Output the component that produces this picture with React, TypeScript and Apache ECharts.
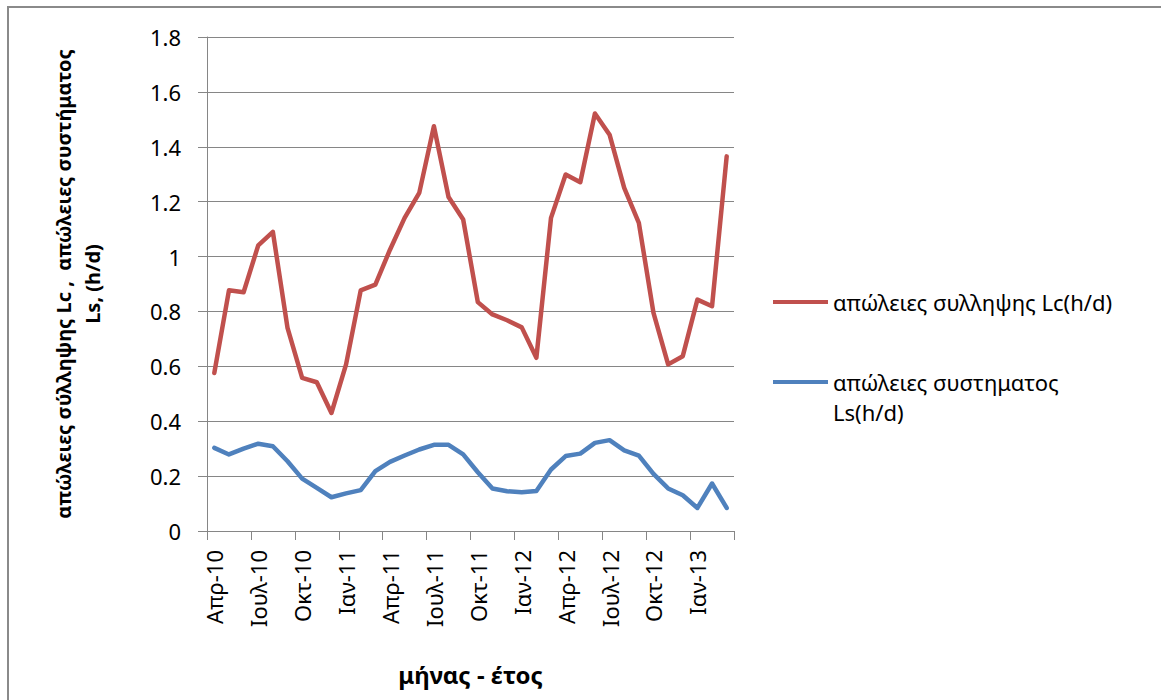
import React, { useEffect, useRef } from "react";
import * as echarts from "echarts";

const categories = [
  "Απρ-10", "Μαϊ-10", "Ιουν-10", "Ιουλ-10", "Αυγ-10", "Σεπ-10", "Οκτ-10", "Νοε-10", "Δεκ-10",
  "Ιαν-11", "Φεβ-11", "Μαρ-11", "Απρ-11", "Μαϊ-11", "Ιουν-11", "Ιουλ-11", "Αυγ-11", "Σεπ-11",
  "Οκτ-11", "Νοε-11", "Δεκ-11", "Ιαν-12", "Φεβ-12", "Μαρ-12", "Απρ-12", "Μαϊ-12", "Ιουν-12",
  "Ιουλ-12", "Αυγ-12", "Σεπ-12", "Οκτ-12", "Νοε-12", "Δεκ-12", "Ιαν-13", "Φεβ-13", "Μαρ-13",
];

const captureLosses = [
  0.576, 0.877, 0.87, 1.041, 1.09, 0.74, 0.558, 0.542, 0.43,
  0.607, 0.877, 0.898, 1.025, 1.141, 1.232, 1.475, 1.217, 1.135,
  0.834, 0.789, 0.768, 0.742, 0.631, 1.141, 1.299, 1.271, 1.521,
  1.444, 1.25, 1.123, 0.795, 0.607, 0.637, 0.843, 0.819, 1.365,
];

const systemLosses = [
  0.303, 0.279, 0.3, 0.318, 0.309, 0.254, 0.191, 0.157, 0.123,
  0.137, 0.149, 0.218, 0.252, 0.275, 0.297, 0.314, 0.314, 0.279,
  0.214, 0.155, 0.145, 0.141, 0.146, 0.224, 0.273, 0.282, 0.321,
  0.331, 0.294, 0.275, 0.208, 0.155, 0.13, 0.084, 0.173, 0.084,
];

const seriesNames = ["απώλειες συλληψης Lc(h/d)", "απώλειες συστηματος Ls(h/d)"];
const legendLabels = ["απώλειες συλληψης Lc(h/d)", "απώλειες συστηματος\nLs(h/d)"];
const yAxisTitle = "απώλειες σύλληψης Lc ,  απώλειες συστήματος\nLs, (h/d)";
const xAxisTitle = "μήνας - έτος";

const FONT = "'Noto Sans', 'DejaVu Sans', sans-serif";
const GRID_COLOR = "#868686";
const LEGEND_LH = 30;

export default function App() {
  const ref = useRef<HTMLDivElement>(null);

  useEffect(() => {
    if (!ref.current) return;
    const chart = echarts.init(ref.current, undefined, { renderer: "svg" });
    chart.setOption({
      animation: false,
      backgroundColor: "#ffffff",
      textStyle: { fontFamily: FONT },
      graphic: [
        {
          type: "rect",
          shape: { x: 8, y: 7, width: 1200, height: 760 },
          style: { fill: "none", stroke: "#8a8a8a", lineWidth: 2 },
          silent: true,
        },
      ],
      grid: { left: 207, top: 37, width: 527, height: 494, containLabel: false },
      legend: [
        {
          data: [seriesNames[0]],
          left: 773,
          top: 302 - LEGEND_LH / 2,
          padding: 0,
          itemWidth: 55,
          itemHeight: 4,
          itemGap: 0,
          icon: "rect",
          itemStyle: { color: "#C0504D" },
          formatter: () => legendLabels[0],
          textStyle: { fontFamily: FONT, fontSize: 22, color: "#000", lineHeight: LEGEND_LH },
        },
        {
          data: [seriesNames[1]],
          left: 773,
          top: 382 - LEGEND_LH * 1.5,
          padding: 0,
          itemWidth: 55,
          itemHeight: 4,
          itemGap: 0,
          icon: "rect",
          itemStyle: { color: "#4F81BD" },
          formatter: () => "\n" + legendLabels[1],
          textStyle: { fontFamily: FONT, fontSize: 22, color: "#000", lineHeight: LEGEND_LH },
        },
      ],
      xAxis: {
        type: "category",
        data: categories,
        boundaryGap: true,
        name: xAxisTitle,
        nameLocation: "middle",
        nameGap: 131,
        nameTextStyle: { fontFamily: FONT, fontSize: 24, fontWeight: "bold", color: "#000" },
        axisLine: { lineStyle: { color: GRID_COLOR, width: 1 } },
        axisTick: { show: true, interval: 2, length: 9, lineStyle: { color: GRID_COLOR } },
        axisLabel: {
          interval: 2,
          rotate: 90,
          margin: 19,
          fontFamily: FONT,
          fontSize: 22,
          color: "#000",
        },
        splitLine: { show: false },
      },
      yAxis: {
        type: "value",
        min: 0,
        max: 1.8,
        interval: 0.2,
        name: yAxisTitle,
        nameLocation: "middle",
        nameRotate: 90,
        nameGap: 100,
        nameTextStyle: {
          fontFamily: FONT,
          fontSize: 20,
          fontWeight: "bold",
          color: "#000",
          lineHeight: 29,
        },
        axisLine: { show: true, lineStyle: { color: GRID_COLOR, width: 1 } },
        axisTick: { show: true, length: 9, lineStyle: { color: GRID_COLOR } },
        axisLabel: {
          margin: 26,
          fontFamily: FONT,
          fontSize: 22,
          color: "#000",
          formatter: (v: number) => String(Math.round(v * 10) / 10),
        },
        splitLine: { show: true, lineStyle: { color: GRID_COLOR, width: 1 } },
      },
      series: [
        {
          name: seriesNames[0],
          type: "line",
          data: captureLosses,
          symbol: "none",
          color: "#C0504D",
          lineStyle: { width: 4.5, color: "#C0504D", join: "round", cap: "round" },
        },
        {
          name: seriesNames[1],
          type: "line",
          data: systemLosses,
          symbol: "none",
          color: "#4F81BD",
          lineStyle: { width: 4.5, color: "#4F81BD", join: "round", cap: "round" },
        },
      ],
    });
    return () => chart.dispose();
  }, []);

  return (
    <div
      ref={ref}
      style={{ position: "absolute", left: 0, top: 0, width: 1161, height: 700, background: "#fff" }}
    />
  );
}
